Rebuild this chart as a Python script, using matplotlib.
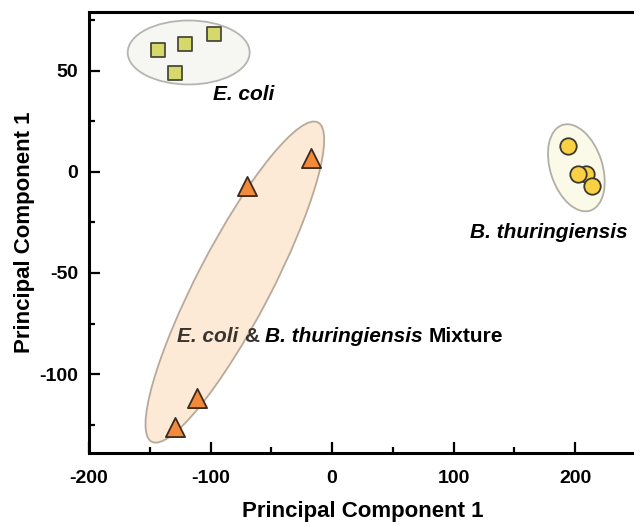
import matplotlib
matplotlib.use('Agg')
import matplotlib.pyplot as plt
from matplotlib.patches import Ellipse
from matplotlib.transforms import ScaledTranslation
from matplotlib.ticker import MultipleLocator

plt.rcParams['font.family'] = ['Liberation Sans', 'DejaVu Sans']
plt.rcParams['font.weight'] = 'bold'
plt.rcParams['axes.unicode_minus'] = False

# PCA scores
ecoli_x = [-143, -121, -97, -129]
ecoli_y = [60, 63, 68, 49]
mix_x = [-17, -70, -111, -129]
mix_y = [7, -7, -112, -126]
bt_x = [209, 202, 194, 214]
bt_y = [-1, -1, 13, -7]

# group outlines: centre (data), width/height (inches), angle, fill, edge
groups = ['ecoli', 'bt', 'mix']
group_center = [(-118, 59), (201, 2), (-80, -54.5)]
group_size = [(1.22, 0.64), (0.52, 0.90), (3.60, 0.74)]
group_angle = [0, 18, 62.5]
group_fill = ['#f6f6f3', '#fbf9e8', '#fce9d6']
group_edge = ['#b5b5b0', '#b0b0a6', '#b8aa9a']

fig = plt.figure(figsize=(6.34, 5.25), dpi=100)
ax = fig.add_axes([0.1404, 0.1371, 0.8626, 0.84])

for c, s, a, fc, ec in zip(group_center, group_size, group_angle, group_fill, group_edge):
    tr = fig.dpi_scale_trans + ScaledTranslation(c[0], c[1], ax.transData)
    ax.add_patch(Ellipse((0, 0), s[0], s[1], angle=a, transform=tr,
                         facecolor=fc, edgecolor=ec, lw=1.3, zorder=1))

ax.scatter(ecoli_x, ecoli_y, marker='s', s=105, c='#d5d96c',
           edgecolors='#4b4a38', linewidths=1.3, zorder=3)
ax.scatter(mix_x, mix_y, marker='^', s=190, c='#f28a3a',
           edgecolors='#3a2a20', linewidths=1.3, zorder=3)
ax.scatter(bt_x, bt_y, marker='o', s=140, c='#fad044',
           edgecolors='#3a3a30', linewidths=1.3, zorder=3)

ax.text(-73, 38, 'E. coli', fontsize=15, style='italic', weight='bold',
        ha='center', va='center', zorder=4)
ax.text(178.5, -30, 'B. thuringiensis', fontsize=15, style='italic', weight='bold',
        ha='center', va='center', zorder=4)

# mixed-style label, pieces chained left to right
pieces = [('E. coli', 'italic', '#3a342f'), ('&', 'normal', '#3a342f'),
          ('B. thuringiensis', 'italic', 'black'), ('Mixture', 'normal', 'black')]
prev = None
for txt, st, col in pieces:
    if prev is None:
        prev = ax.text(-127.5, -81.5, txt, fontsize=15, style=st, weight='bold',
                       color=col, ha='left', va='center', zorder=4)
    else:
        prev = ax.annotate(txt, xy=(1, 0), xycoords=prev, xytext=(4.2, 0),
                           textcoords='offset points', fontsize=15, style=st,
                           weight='bold', color=col, ha='left', va='bottom', zorder=4)

ax.set_xlim(-200, 250)
ax.set_ylim(-139, 79)
ax.xaxis.set_major_locator(MultipleLocator(100))
ax.xaxis.set_minor_locator(MultipleLocator(50))
ax.yaxis.set_major_locator(MultipleLocator(50))
ax.yaxis.set_minor_locator(MultipleLocator(25))
ax.set_xticks([-200, -100, 0, 100, 200])
ax.tick_params(which='both', direction='in', top=False, right=False, width=1.6)
ax.tick_params(which='major', length=8, labelsize=14)
ax.tick_params(which='minor', length=4)
ax.tick_params(axis='x', which='major', pad=12)
ax.tick_params(axis='y', which='major', pad=8)
for lab in ax.get_xticklabels() + ax.get_yticklabels():
    lab.set_fontweight('bold')

for side in ['left', 'bottom', 'top']:
    ax.spines[side].set_linewidth(2.2)
ax.spines['right'].set_visible(False)

ax.set_xlabel('Principal Component 1', fontsize=16, weight='bold', labelpad=10)
ax.set_ylabel('Principal Component 1', fontsize=16, weight='bold', labelpad=3)

fig.savefig('out.png', dpi=100)
